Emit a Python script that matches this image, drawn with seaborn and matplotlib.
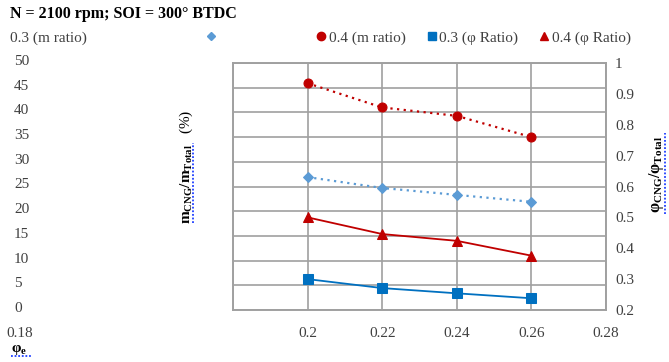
import matplotlib
matplotlib.use("Agg")
import matplotlib.pyplot as plt
from matplotlib.lines import Line2D
from matplotlib.transforms import ScaledTranslation
import seaborn as sns
import pandas as pd

# Equivalence ratio of the mixture
phi_e = [0.20, 0.22, 0.24, 0.26]

# CNG mass fraction (%) for two CNG energy shares
m_ratio_03 = [26.9, 24.7, 23.3, 21.9]
m_ratio_04 = [45.9, 41.0, 39.3, 35.0]

# CNG equivalence-ratio share for the same two cases
phi_ratio_03 = [0.300, 0.271, 0.254, 0.238]
phi_ratio_04 = [0.500, 0.446, 0.424, 0.376]

x_ticks = [0.18, 0.20, 0.22, 0.24, 0.26, 0.28]
x_labels = ["0.18", "0.2", "0.22", "0.24", "0.26", "0.28"]
left_ticks = [0, 5, 10, 15, 20, 25, 30, 35, 40, 45, 50]
right_ticks = [0.2, 0.3, 0.4, 0.5, 0.6, 0.7, 0.8, 0.9, 1.0]
right_labels = ["0.2", "0.3", "0.4", "0.5", "0.6", "0.7", "0.8", "0.9", "1"]

title = "N = 2100 rpm; SOI = 300° BTDC"
series_names = ["0.3 (m ratio)", "0.4 (m ratio)", "0.3 (φ Ratio)", "0.4 (φ Ratio)"]

sns.set_theme(style="white")
plt.rcParams["font.family"] = ["Liberation Serif", "DejaVu Serif"]
plt.rcParams["mathtext.fontset"] = "custom"
plt.rcParams["mathtext.rm"] = "Liberation Serif"
plt.rcParams["mathtext.it"] = "Liberation Serif:italic"
plt.rcParams["mathtext.bf"] = "Liberation Serif:bold"
plt.rcParams["font.size"] = 11

FS = 11
RED = "#C00000"
LBLUE = "#5B9BD5"
BLUE = "#0070C0"
GRID = "#A0A0A0"
TXT = "#404040"

fig = plt.figure(figsize=(6.69, 3.62), dpi=100)
W, H = 669, 362
ax = fig.add_axes([233 / W, 1 - 310 / H, 373 / W, 247 / H])
ax2 = ax.twinx()

m_df = pd.DataFrame({"phi_e": phi_e, "m03": m_ratio_03, "m04": m_ratio_04})
p_df = pd.DataFrame({"phi_e": phi_e, "p03": phi_ratio_03, "p04": phi_ratio_04})

sns.lineplot(data=m_df, x="phi_e", y="m03", ax=ax, color=LBLUE, lw=1.6,
             linestyle=(0, (1, 2)), marker="D", markersize=5,
             markeredgecolor=LBLUE, zorder=5)
sns.lineplot(data=m_df, x="phi_e", y="m04", ax=ax, color=RED, lw=1.6,
             linestyle=(0, (1, 2)), marker="o", markersize=6.5,
             markeredgecolor=RED, zorder=5)
sns.lineplot(data=p_df, x="phi_e", y="p03", ax=ax2, color=BLUE, lw=1.3,
             marker="s", markersize=7, markeredgecolor=BLUE, zorder=5)
sns.lineplot(data=p_df, x="phi_e", y="p04", ax=ax2, color=RED, lw=1.3,
             marker="^", markersize=7, markeredgecolor=RED, zorder=5)

ax.set_xlim(x_ticks[0], x_ticks[-1])
ax.set_ylim(left_ticks[0], left_ticks[-1])
ax2.set_ylim(right_ticks[0], right_ticks[-1])

ax.set_xticks(x_ticks)
ax.set_xticklabels(x_labels)
ax.set_yticks(left_ticks)
ax.set_yticklabels([str(v) for v in left_ticks])
ax2.set_yticks(right_ticks)
ax2.set_yticklabels(right_labels)

ax.set_xlabel("")
ax.set_ylabel("")
ax2.set_ylabel("")

# grid: horizontal lines follow the left axis, vertical lines at every x tick
ax.grid(True, axis="both", color=GRID, lw=1.2)
ax2.grid(False)
for a in (ax, ax2):
    for s in a.spines.values():
        s.set_color(GRID)
        s.set_linewidth(1.2)
ax.set_axisbelow(True)

ax.tick_params(axis="y", length=0, pad=157.7, labelsize=FS, colors=TXT)
ax.tick_params(axis="x", length=0, pad=12.5, labelsize=FS, colors=TXT)
ax2.tick_params(axis="y", length=0, pad=6.5, labelsize=FS, colors=TXT)
lift = ScaledTranslation(0, 0.03, fig.dpi_scale_trans)
for lab in ax.get_yticklabels():
    lab.set_horizontalalignment("left")
    lab.set_transform(lab.get_transform() + lift)
for lab in ax2.get_yticklabels():
    lab.set_horizontalalignment("left")

# first x label sits at the far left of the figure
first = ax.get_xticklabels()[0]
first.set_transform(first.get_transform() + ScaledTranslation(-2.13, 0, fig.dpi_scale_trans))

# title and axis titles
fig.text(10 / W, 1 - 14 / H, title, fontsize=11.5, fontweight="bold",
         ha="left", va="center", color="black")
fig.text(186 / W, 1 - 167 / H, r"$\mathbf{m_{CNG}/m_{Total}}$   (%)",
         rotation=90, ha="center", va="center", fontsize=11, color="black")
fig.text(657 / W, 1 - 174 / H, r"$\mathbf{\varphi_{CNG}/\varphi_{Total}}$",
         rotation=90, ha="center", va="center", fontsize=11.5, color="black")
fig.text(11 / W, 1 - 350 / H, r"$\mathbf{\varphi_{e}}$",
         ha="left", va="center", fontsize=11, color="black")

# wavy proofing underlines under the axis titles
squiggle = dict(color="#1F3FFF", lw=1.3, ls=(0, (1, 1)), transform=fig.transFigure)
fig.add_artist(Line2D([193 / W, 193 / W], [1 - 223 / H, 1 - 143 / H], **squiggle))
fig.add_artist(Line2D([665 / W, 665 / W], [1 - 214 / H, 1 - 133 / H], **squiggle))
fig.add_artist(Line2D([11 / W, 31 / W], [1 - 356 / H, 1 - 356 / H], **squiggle))

# legend row
handles = [
    Line2D([], [], ls="none", marker="D", markersize=4.5, color=LBLUE),
    Line2D([], [], ls="none", marker="o", markersize=6, color=RED),
    Line2D([], [], ls="none", marker="s", markersize=6, color=BLUE),
    Line2D([], [], ls="none", marker="^", markersize=6, color=RED),
]
leg = fig.legend(handles, series_names, loc="center left", ncol=4,
                 bbox_to_anchor=(206 / W, 1 - 38 / H), frameon=False,
                 handlelength=0.6, handletextpad=0.2, columnspacing=1.4,
                 borderaxespad=0, borderpad=0, fontsize=FS)
for t in leg.get_texts():
    t.set_color(TXT)
leg.get_texts()[0].set_alpha(0)
fig.text(10 / W, 1 - 38 / H, series_names[0], ha="left", va="center",
         fontsize=FS, color=TXT)

fig.savefig("out.png", dpi=100, facecolor="white")
